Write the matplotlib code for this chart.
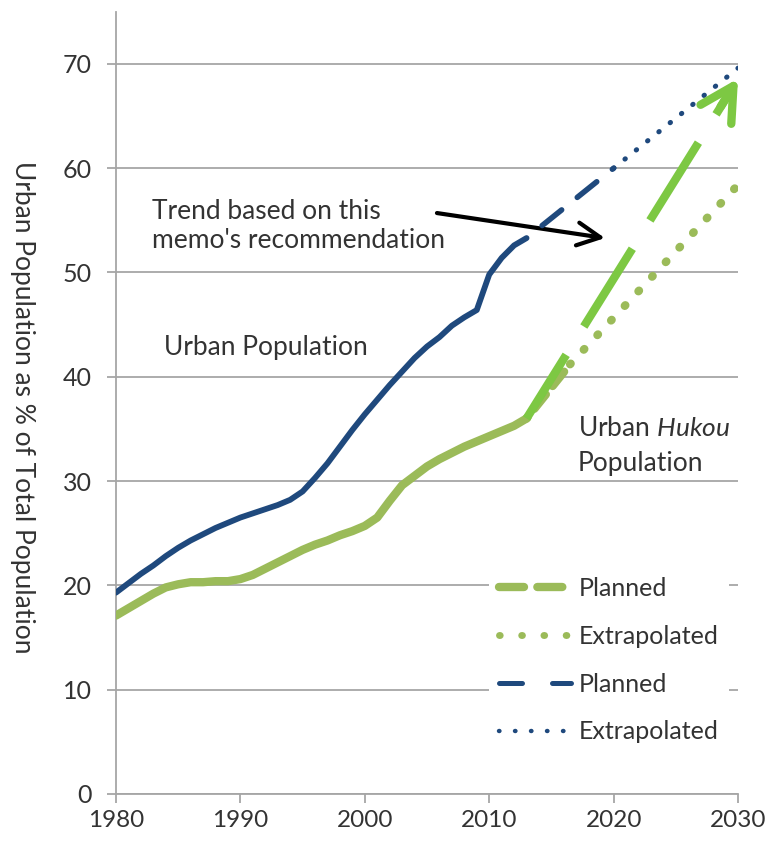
import matplotlib.pyplot as plt
from matplotlib.lines import Line2D

plt.rcParams['font.family'] = ['Lato', 'DejaVu Sans']
plt.rcParams['mathtext.fontset'] = 'custom'
plt.rcParams['mathtext.rm'] = 'Lato'
plt.rcParams['mathtext.it'] = 'Lato:italic'

# urban population share (% of total), 1980-2013
years = [1980, 1981, 1982, 1983, 1984, 1985, 1986, 1987, 1988, 1989,
         1990, 1991, 1992, 1993, 1994, 1995, 1996, 1997, 1998, 1999,
         2000, 2001, 2002, 2003, 2004, 2005, 2006, 2007, 2008, 2009,
         2010, 2011, 2012, 2013]
urban = [19.3, 20.2, 21.1, 21.9, 22.8, 23.6, 24.3, 24.9, 25.5, 26.0,
         26.5, 26.9, 27.3, 27.7, 28.2, 29.0, 30.3, 31.7, 33.3, 34.9,
         36.4, 37.8, 39.2, 40.5, 41.8, 42.9, 43.8, 44.9, 45.7, 46.4,
         49.8, 51.4, 52.6, 53.3]
hukou = [17.1, 17.8, 18.5, 19.2, 19.8, 20.1, 20.3, 20.3, 20.4, 20.4,
         20.6, 21.0, 21.6, 22.2, 22.8, 23.4, 23.9, 24.3, 24.8, 25.2,
         25.7, 26.5, 28.1, 29.6, 30.5, 31.4, 32.1, 32.7, 33.3, 33.8,
         34.3, 34.8, 35.3, 36.0]

# projections
urban_plan_x = [2013, 2020]
urban_plan_y = [53.3, 60.0]
urban_extra_x = [2020, 2030]
urban_extra_y = [60.0, 69.6]
hukou_plan_x = [2013, 2030]
hukou_plan_y = [36.0, 68.6]
hukou_extra_x = [2013, 2016.5, 2030]
hukou_extra_y = [36.0, 41.2, 58.4]

blue = '#1f497d'
olive = '#9bbb59'
bright = '#7dc843'
grid = '#a6a6a6'
txt = '#333333'
fs = 19

fig = plt.figure(figsize=(7.68, 8.41), dpi=100)
ax = fig.add_axes([0.151, 0.056, 0.810, 0.930])

ax.plot(years, urban, color=blue, lw=4.2, solid_capstyle='round', zorder=4)
ax.plot(years, hukou, color=olive, lw=6, solid_capstyle='round', zorder=3)

ax.plot(urban_plan_x, urban_plan_y, color=blue, lw=4,
        linestyle=(4.5, (4.5, 3.6)), dash_capstyle='round', zorder=4)
ax.plot(urban_extra_x, urban_extra_y, color=blue, lw=3.6,
        dashes=(0.1, 2.8), dash_capstyle='round', zorder=4)

ax.plot(hukou_extra_x[:2], hukou_extra_y[:2], color=olive, lw=6,
        linestyle=(2, (2.2, 1.3)), dash_capstyle='round', zorder=3)
ax.plot(hukou_extra_x[1:], hukou_extra_y[1:], color=olive, lw=6,
        dashes=(0.1, 2.3), dash_capstyle='round', zorder=3)

ax.plot([hukou_plan_x[0], hukou_plan_x[1] - 0.6],
        [hukou_plan_y[0], hukou_plan_y[1] - 1.2],
        color=bright, lw=6, linestyle=(2, (11, 4)), zorder=5)
ax.annotate('', xy=(hukou_plan_x[1], hukou_plan_y[1]),
            xytext=(hukou_plan_x[1] - 1.4, hukou_plan_y[1] - 2.7),
            arrowprops=dict(arrowstyle='->,head_length=1.2,head_width=0.65',
                            mutation_scale=20, color=bright, lw=6,
                            shrinkA=0, shrinkB=0),
            zorder=5)

# memo trend pointer
ax.annotate('', xy=(2019.3, 53.3), xytext=(2005.8, 55.7),
            arrowprops=dict(arrowstyle='->,head_length=1.1,head_width=0.55',
                            mutation_scale=15, color='black', lw=3,
                            shrinkA=0, shrinkB=0))
ax.text(1982.9, 54.5, "Trend based on this\nmemo's recommendation",
        fontsize=fs, color=txt, va='center', ha='left', linespacing=1.2)

ax.text(1983.9, 42.8, 'Urban Population', fontsize=fs, color=txt,
        va='center', ha='left')
ax.text(2017.1, 35.0, 'Urban $\\mathit{Hukou}$', fontsize=fs, color=txt,
        va='center', ha='left')
ax.text(2017.1, 31.7, 'Population', fontsize=fs, color=txt, va='center',
        ha='left')

ax.set_xlim(1980, 2030)
ax.set_ylim(0, 75)
ax.set_xticks(range(1980, 2031, 10))
ax.set_yticks(range(0, 71, 10))
ax.yaxis.grid(True, color=grid, lw=1.3)
ax.set_axisbelow(True)
for s in ['top', 'right']:
    ax.spines[s].set_visible(False)
for s in ['left', 'bottom']:
    ax.spines[s].set_color(grid)
    ax.spines[s].set_linewidth(1.3)
ax.tick_params(axis='both', colors=grid, length=6.5, width=1.3,
               labelcolor=txt, labelsize=17.5)
ax.tick_params(axis='x', pad=5)
ax.tick_params(axis='y', pad=11, labelsize=18)

fig.text(0.029, 0.516, 'Urban Population as % of Total Population',
         rotation=-90, fontsize=fs, color=txt, va='center', ha='center')

handles = [
    Line2D([], [], color=olive, lw=6, dashes=(3.0, 1.6), dash_capstyle='round'),
    Line2D([], [], color=olive, lw=5, dashes=(0.1, 3.1), dash_capstyle='round'),
    Line2D([], [], color=blue, lw=3.6, dashes=(4.6, 6.0), dash_capstyle='round'),
    Line2D([], [], color=blue, lw=3.2, dashes=(0.1, 3.5), dash_capstyle='round'),
]
labels = ['Planned', 'Extrapolated', 'Planned', 'Extrapolated']
leg = ax.legend(handles, labels, loc='upper left', bbox_to_anchor=(0.579, 0.306),
                frameon=True, facecolor='white', edgecolor='none', framealpha=1,
                fontsize=18, handlelength=2.9, handletextpad=0.3,
                labelspacing=0.99, borderpad=0.4)
for t in leg.get_texts():
    t.set_color(txt)

fig.savefig('out.png', dpi=100)
